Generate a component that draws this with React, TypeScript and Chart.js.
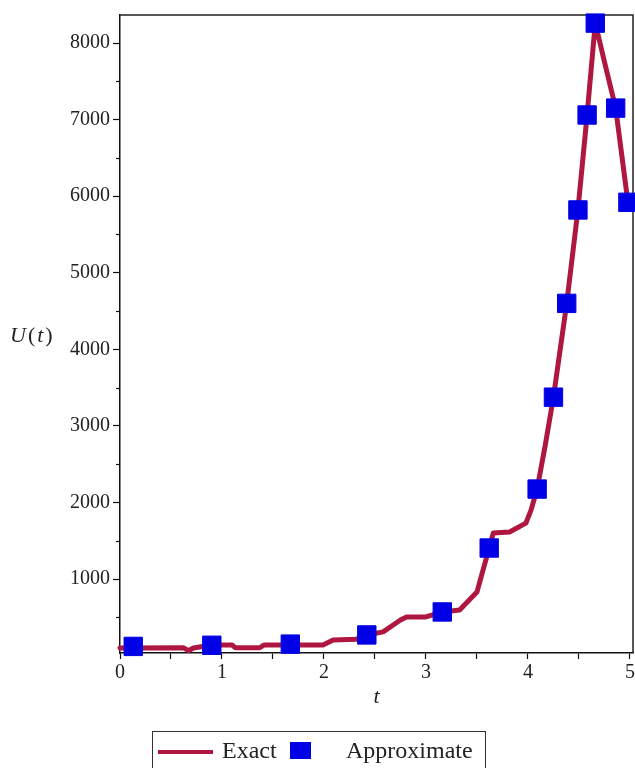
import React, { useEffect, useRef } from 'react';
import { Chart, registerables } from 'chart.js';

Chart.register(...registerables);

// Exact solution curve (t, U)
const exactT = [0, 0.62, 0.67, 0.72, 0.9, 1.1, 1.13, 1.37, 1.41, 1.67, 1.99, 2.09, 2.32, 2.42, 2.58, 2.75, 2.81, 3.0, 3.16, 3.33, 3.5, 3.56, 3.62, 3.66, 3.82, 3.98, 4.03, 4.09, 4.17, 4.25, 4.38, 4.49, 4.58, 4.66, 4.76, 4.86, 4.98];
const exactU = [100, 103, 64, 100, 138, 138, 103, 103, 138, 140, 140, 204, 215, 270, 310, 465, 505, 505, 570, 595, 830, 1120, 1405, 1600, 1615, 1730, 1900, 2175, 2750, 3375, 4600, 5820, 7060, 8260, 7700, 7150, 5920];

// Approximate solution points (t, U)
const approxT = [0.13, 0.9, 1.67, 2.42, 3.16, 3.62, 4.09, 4.25, 4.38, 4.49, 4.58, 4.66, 4.86, 4.98];
const approxU = [120, 135, 150, 270, 570, 1405, 2175, 3375, 4600, 5820, 7060, 8260, 7150, 5920];

// Tick positions and labels
const xTickValues = [0, 0.5, 1, 1.5, 2, 2.5, 3, 3.5, 4, 4.5, 5];
const xTickLabels = [0, 1, 2, 3, 4, 5];
const yTickLabels = [1000, 2000, 3000, 4000, 5000, 6000, 7000, 8000];
const yMinorTicks = [500, 1500, 2500, 3500, 4500, 5500, 6500, 7500];

const seriesNames = ['Exact', 'Approximate'];
const EXACT_COLOR = '#AF1740';
const APPROX_COLOR = '#0000E6';
const SERIF = "'Liberation Serif', 'Times New Roman', serif";

const decorPlugin = {
  id: 'decor',
  beforeDatasetsDraw(chart: any) {
    const { ctx, chartArea: a } = chart;
    ctx.save();
    ctx.strokeStyle = '#222';
    ctx.lineWidth = 1.5;
    ctx.beginPath();
    ctx.moveTo(a.left, a.top);
    ctx.lineTo(a.right, a.top);
    ctx.lineTo(a.right, a.bottom);
    ctx.stroke();
    // minor y ticks
    const ys = chart.scales.y;
    ctx.lineWidth = 1.2;
    ctx.strokeStyle = '#111';
    for (const v of yMinorTicks) {
      const py = Math.round(ys.getPixelForValue(v)) + 0.5;
      ctx.beginPath();
      ctx.moveTo(a.left - 4, py);
      ctx.lineTo(a.left, py);
      ctx.stroke();
    }
    ctx.restore();
  },
  afterDraw(chart: any) {
    const { ctx } = chart;
    ctx.save();
    // y axis title U(t), horizontal
    const ys = chart.scales.y;
    const cy = (ys.top + ys.bottom) / 2 + 2;
    ctx.fillStyle = '#222';
    ctx.textBaseline = 'middle';
    ctx.textAlign = 'left';
    let x = 10;
    const parts: [string, boolean][] = [['U', true], ['(', false], ['t', true], [')', false]];
    for (const [s, it] of parts) {
      ctx.font = `${it ? 'italic ' : ''}22px ${SERIF}`;
      ctx.fillText(s, x, cy);
      x += ctx.measureText(s).width + 2;
    }
    // legend box
    ctx.strokeStyle = '#333';
    ctx.lineWidth = 1;
    ctx.strokeRect(152.5, 731.5, 333, 60);
    const ly = 752;
    ctx.strokeStyle = EXACT_COLOR;
    ctx.lineWidth = 4;
    ctx.beginPath();
    ctx.moveTo(158, ly);
    ctx.lineTo(213, ly);
    ctx.stroke();
    ctx.font = `24px ${SERIF}`;
    ctx.fillStyle = '#222';
    ctx.fillText(seriesNames[0], 222, ly);
    ctx.fillStyle = APPROX_COLOR;
    ctx.fillRect(290, 742, 21, 17);
    ctx.fillStyle = '#222';
    ctx.fillText(seriesNames[1], 346, ly);
    ctx.restore();
  },
};

export default function App() {
  const ref = useRef<HTMLCanvasElement>(null);
  useEffect(() => {
    if (!ref.current) return;
    const chart = new Chart(ref.current, {
      type: 'line',
      data: {
        datasets: [
          {
            label: seriesNames[0],
            data: exactT.map((t, i) => ({ x: t, y: exactU[i] })),
            borderColor: EXACT_COLOR,
            backgroundColor: EXACT_COLOR,
            borderWidth: 5,
            borderJoinStyle: 'round',
            borderCapStyle: 'round',
            pointRadius: 0,
            tension: 0,
            order: 1,
            clip: false as any,
          },
          {
            label: seriesNames[1],
            data: approxT.map((t, i) => ({ x: t, y: approxU[i] })),
            showLine: false,
            pointStyle: 'rect',
            pointRadius: 13,
            pointBackgroundColor: APPROX_COLOR,
            pointBorderColor: APPROX_COLOR,
            pointBorderWidth: 1,
            order: 0,
            clip: false as any,
          },
        ],
      },
      options: {
        responsive: false,
        animation: false,
        events: [],
        layout: { autoPadding: false, padding: { left: 0, right: 2, top: 15, bottom: 0 } },
        plugins: { legend: { display: false }, tooltip: { enabled: false }, title: { display: false } },
        scales: {
          x: {
            type: 'linear',
            min: 0,
            max: 5.03,
            afterBuildTicks: (s: any) => {
              s.ticks = xTickValues.map((v) => ({ value: v }));
            },
            ticks: {
              autoSkip: false,
              maxRotation: 0,
              padding: 2,
              color: '#222',
              font: { family: SERIF, size: 20 },
              callback: (v: any) => (xTickLabels.includes(Number(v)) ? String(v) : ''),
            },
            grid: { drawOnChartArea: false, drawTicks: true, tickLength: 6, tickColor: '#111', tickWidth: 1.2 },
            border: { display: true, color: '#111', width: 1.5 },
            title: {
              display: true,
              text: 't',
              color: '#222',
              font: { family: SERIF, size: 22, style: 'italic' },
              padding: { top: 0, bottom: 58 },
            },
            afterFit: (s: any) => {
              s.height = 115;
              s.paddingLeft = 0;
              s.paddingRight = 0;
            },
          },
          y: {
            type: 'linear',
            min: 34,
            max: 8366,
            afterBuildTicks: (s: any) => {
              s.ticks = yTickLabels.map((v) => ({ value: v }));
            },
            ticks: {
              autoSkip: false,
              padding: 3,
              color: '#222',
              font: { family: SERIF, size: 20 },
              callback: (v: any) => String(v),
            },
            grid: {
              drawOnChartArea: false,
              drawTicks: true,
              tickLength: 7,
              tickWidth: 1.2,
              tickColor: '#111',
            },
            border: { display: true, color: '#111', width: 1.5 },
            afterFit: (s: any) => {
              s.width = 120;
              s.paddingTop = 0;
              s.paddingBottom = 0;
            },
          },
        },
      },
      plugins: [decorPlugin],
    } as any);
    return () => chart.destroy();
  }, []);
  return (
    <div style={{ position: 'absolute', left: 0, top: 0, width: 635, height: 768, background: '#fff' }}>
      <canvas ref={ref} width={635} height={768} />
    </div>
  );
}
